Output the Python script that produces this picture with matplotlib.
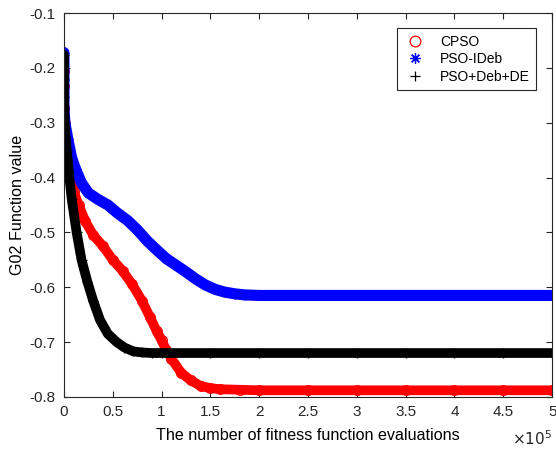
import numpy as np
import matplotlib
matplotlib.use("Agg")
from matplotlib import pyplot as plt
from matplotlib.ticker import FuncFormatter

plt.rcParams['font.family'] = ['Liberation Sans', 'DejaVu Sans']
plt.rcParams['axes.unicode_minus'] = False

# fitness evaluations, in units of 1e5
cpso_x = [0, 0, 0, 0.01, 0.03, 0.06, 0.10, 0.15, 0.22, 0.30, 0.40, 0.50, 0.60, 0.70,
          0.80, 0.88, 0.95, 1.00, 1.05, 1.10, 1.20, 1.30, 1.40, 1.50, 1.60, 1.80,
          2.0, 2.5, 3.0, 3.5, 4.0, 4.5, 5.0]
cpso_y = [-0.205, -0.233, -0.273, -0.30, -0.35, -0.39, -0.425, -0.45, -0.48, -0.505,
          -0.525, -0.55, -0.57, -0.595, -0.625, -0.654, -0.68, -0.697, -0.715, -0.73,
          -0.756, -0.77, -0.78, -0.784, -0.786, -0.787,
          -0.788, -0.788, -0.788, -0.788, -0.788, -0.788, -0.788]

ideb_x = [0, 0, 0, 0.01, 0.04, 0.08, 0.12, 0.18, 0.25, 0.35, 0.45, 0.55, 0.65, 0.75,
          0.85, 0.95, 1.05, 1.15, 1.25, 1.35, 1.45, 1.55, 1.65, 1.75, 1.85,
          2.0, 2.5, 3.0, 3.5, 4.0, 4.5, 5.0]
ideb_y = [-0.172, -0.222, -0.273, -0.30, -0.33, -0.365, -0.385, -0.41, -0.428, -0.44,
          -0.45, -0.465, -0.478, -0.495, -0.515, -0.532, -0.548, -0.56, -0.572, -0.585,
          -0.596, -0.604, -0.609, -0.612, -0.614,
          -0.615, -0.615, -0.615, -0.615, -0.615, -0.615, -0.615]

dede_x = [0, 0, 0, 0.005, 0.01, 0.03, 0.05, 0.08, 0.13, 0.18, 0.24, 0.30, 0.37, 0.45,
          0.54, 0.62, 0.71, 0.80, 0.90, 1.0, 1.5, 2.0, 2.5, 3.0, 3.5, 4.0, 4.5, 5.0]
dede_y = [-0.176, -0.22, -0.253, -0.29, -0.31, -0.35, -0.39, -0.44, -0.50, -0.55, -0.59,
          -0.625, -0.66, -0.685, -0.70, -0.71, -0.717, -0.719, -0.72, -0.72, -0.72,
          -0.72, -0.72, -0.72, -0.72, -0.72, -0.72, -0.72]

labels = ["CPSO", "PSO-IDeb", "PSO+Deb+DE"]
colors = ["#ff0000", "#0000ff", "#000000"]
markers = ["o", (8, 2, 0), "+"]
band_w = [7, 8, 7]

fig = plt.figure(figsize=(5.56, 4.5), dpi=100)
ax = fig.add_axes([0.115, 0.118, 0.878, 0.853])

series = [(cpso_x, cpso_y), (ideb_x, ideb_y), (dede_x, dede_y)]
for (xs, ys), lab, c, m, w in zip(series, labels, colors, markers, band_w):
    # the dense markers in the original form a solid band
    ax.plot(xs, ys, color=c, lw=w, solid_capstyle="round", solid_joinstyle="round")
    ax.plot(xs, ys, ls="none", marker=m, ms=7, mfc="none", mec=c, mew=0.9, label=lab)

ax.set_xlim(0, 5)
ax.set_ylim(-0.8, -0.1)
ax.set_xticks(np.arange(0, 5.01, 0.5))
ax.set_yticks(np.arange(-0.8, -0.09, 0.1))
ax.xaxis.set_major_formatter(FuncFormatter(lambda v, p: "%g" % round(v, 2)))
ax.yaxis.set_major_formatter(FuncFormatter(lambda v, p: "%g" % round(v, 2)))
ax.tick_params(direction="in", length=4, width=0.8, top=True, right=True,
               labelsize=11, colors="#262626", pad=6)
for s in ax.spines.values():
    s.set_linewidth(0.8)
    s.set_color("#262626")

ax.set_xlabel("The number of fitness function evaluations", fontsize=11.6, labelpad=6)
ax.set_ylabel("G02 Function value", fontsize=11.6, labelpad=3)
ax.text(1.0, -0.085, r"$\times10^{5}$", transform=ax.transAxes, ha="right", va="top",
        fontsize=11, color="#262626")

leg = ax.legend(loc="upper right", bbox_to_anchor=(0.982, 0.978), fontsize=10,
                fancybox=False, framealpha=1, edgecolor="#262626", markerscale=1.1,
                handletextpad=0.9, borderpad=0.45, labelspacing=0.25, handlelength=1.8)
leg.get_frame().set_linewidth(0.8)

fig.savefig("out.png", dpi=100)
